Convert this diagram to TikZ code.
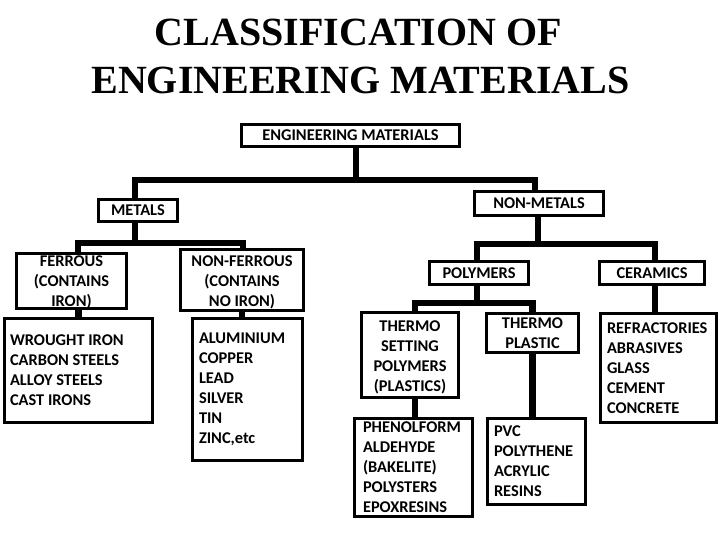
\documentclass[tikz,border=0pt]{standalone}
\usepackage{fontspec}
\setmainfont{Liberation Serif}
\newfontfamily\boxfont{Carlito}
\usepackage{tikz}
\usetikzlibrary{positioning,calc}
\tikzset{
  % title line
  titleline/.style={font=\bfseries\fontsize{40}{48}\selectfont, inner sep=0pt, anchor=base},
  % heading box, centred text
  hbox/.style={draw, line width=2.8pt, inner sep=0pt, align=center,
               font=\boxfont\bfseries\fontsize{16.4}{20}\selectfont,
               execute at begin node={\spaceskip=0pt\xspaceskip=0pt}},
  % heading box of several lines, fixed width
  mbox/.style={hbox, align=flush center, text width=#1},
  % list box, text at the left
  lbox/.style={hbox, align=left, text width=#1},
  % tree connector
  conn/.style={line width=6.5pt, line join=miter},
}

\begin{document}
\begin{tikzpicture}[x=1pt, y=-1pt]
  \useasboundingbox (0,0) rectangle (720,540);

  % ── title ──
  \node[titleline] (ttlA) at (358.5,46) {CLASSIFICATION OF};
  \node[titleline] (ttlB) at (360.5,94) {ENGINEERING MATERIALS};

  % ── top levels ──
  \node[hbox, minimum width=218pt, minimum height=22pt] (em) at (350.5,135.5) {ENGINEERING MATERIALS};
  \node[hbox, minimum width=79pt, minimum height=22pt] (metals) at (138,210.5) {METALS};
  \node[hbox, minimum width=129pt, minimum height=24pt] (nonmetals) at (539,203.5) {NON-METALS};

  % ── metals side ──
  \node[mbox=110pt, text height=13.3pt, text depth=41.9pt] (ferrous) at (71.5,281) {FERROUS\\(CONTAINS\\IRON)};
  \node[mbox=123pt, text height=16.3pt, text depth=44.3pt] (nonferrous) at (242,280) {NON-FERROUS\\(CONTAINS\\NO IRON)};
  \node[lbox=137pt, minimum width=148pt, minimum height=104pt] (flist) at (78.5,370.5)
    {WROUGHT IRON\\CARBON STEELS\\ALLOY STEELS\\CAST IRONS};
  \node[lbox=97pt, minimum width=110pt, minimum height=142pt] (nflist) at (247.5,389.5)
    {ALUMINIUM\\COPPER\\LEAD\\SILVER\\TIN\\ZINC,etc};

  % ── non-metals side ──
  \node[hbox, minimum width=99pt, minimum height=23pt] (polymers) at (479,273) {POLYMERS};
  \node[hbox, minimum width=105pt, minimum height=23pt] (ceramics) at (652,273) {CERAMICS};
  \node[mbox=97pt, text height=19.3pt, text depth=65.9pt] (thermoset) at (410,355) {THERMO\\SETTING\\POLYMERS\\(PLASTICS)};
  \node[hbox, minimum width=92pt, minimum height=39pt] (thermoplastic) at (532.5,333) {THERMO\\PLASTIC};
  \node[lbox=103pt, minimum width=116pt, minimum height=109pt] (cerlist) at (658.5,368)
    {REFRACTORIES\\ABRASIVES\\GLASS\\CEMENT\\CONCRETE};
  \node[lbox=101pt, minimum width=118pt, minimum height=98pt] (phenol) at (413.5,467.5)
    {PHENOLFORM\\ALDEHYDE\\(BAKELITE)\\POLYSTERS\\EPOXRESINS};
  \node[lbox=85pt, minimum width=98pt, minimum height=86pt] (pvc) at (536.5,461.5)
    {PVC\\POLYTHENE\\ACRYLIC\\RESINS};

  % ── connectors ──
  \coordinate (busA) at (356,180);
  \draw[conn] ([xshift=5.5pt]em.south) -- (busA);
  \draw[conn] ([xshift=-3pt]metals.north) |- (busA) -| ([xshift=-4pt]nonmetals.north);

  \coordinate (busB) at (135,243);
  \draw[conn] ([xshift=-3pt]metals.south) -- (busB);
  \draw[conn] ([xshift=6.5pt]ferrous.north) |- (busB) -| ([xshift=1pt]nonferrous.north);
  \draw[conn] (flist.north) -- (flist.north |- ferrous.south);
  \draw[conn] (nonferrous.south) -- (nonferrous.south |- nflist.north);

  \coordinate (busC) at (538,244);
  \draw[conn] ([xshift=-1pt]nonmetals.south) -- (busC);
  \draw[conn] ([xshift=-2pt]polymers.north) |- (busC) -| ([xshift=3pt]ceramics.north);
  \draw[conn] ([xshift=3pt]ceramics.south) -- ([xshift=3pt]ceramics.south |- cerlist.north);

  \coordinate (busD) at (477,303);
  \draw[conn] ([xshift=-2pt]polymers.south) -- (busD);
  \draw[conn] ([xshift=5pt]thermoset.north) |- (busD) -| (thermoplastic.north);
  \draw[conn] ([xshift=5pt]thermoset.south) -- ([xshift=5pt]thermoset.south |- phenol.north);
  \draw[conn] (thermoplastic.south) -- (thermoplastic.south |- pvc.north);

\end{tikzpicture}
\end{document}
